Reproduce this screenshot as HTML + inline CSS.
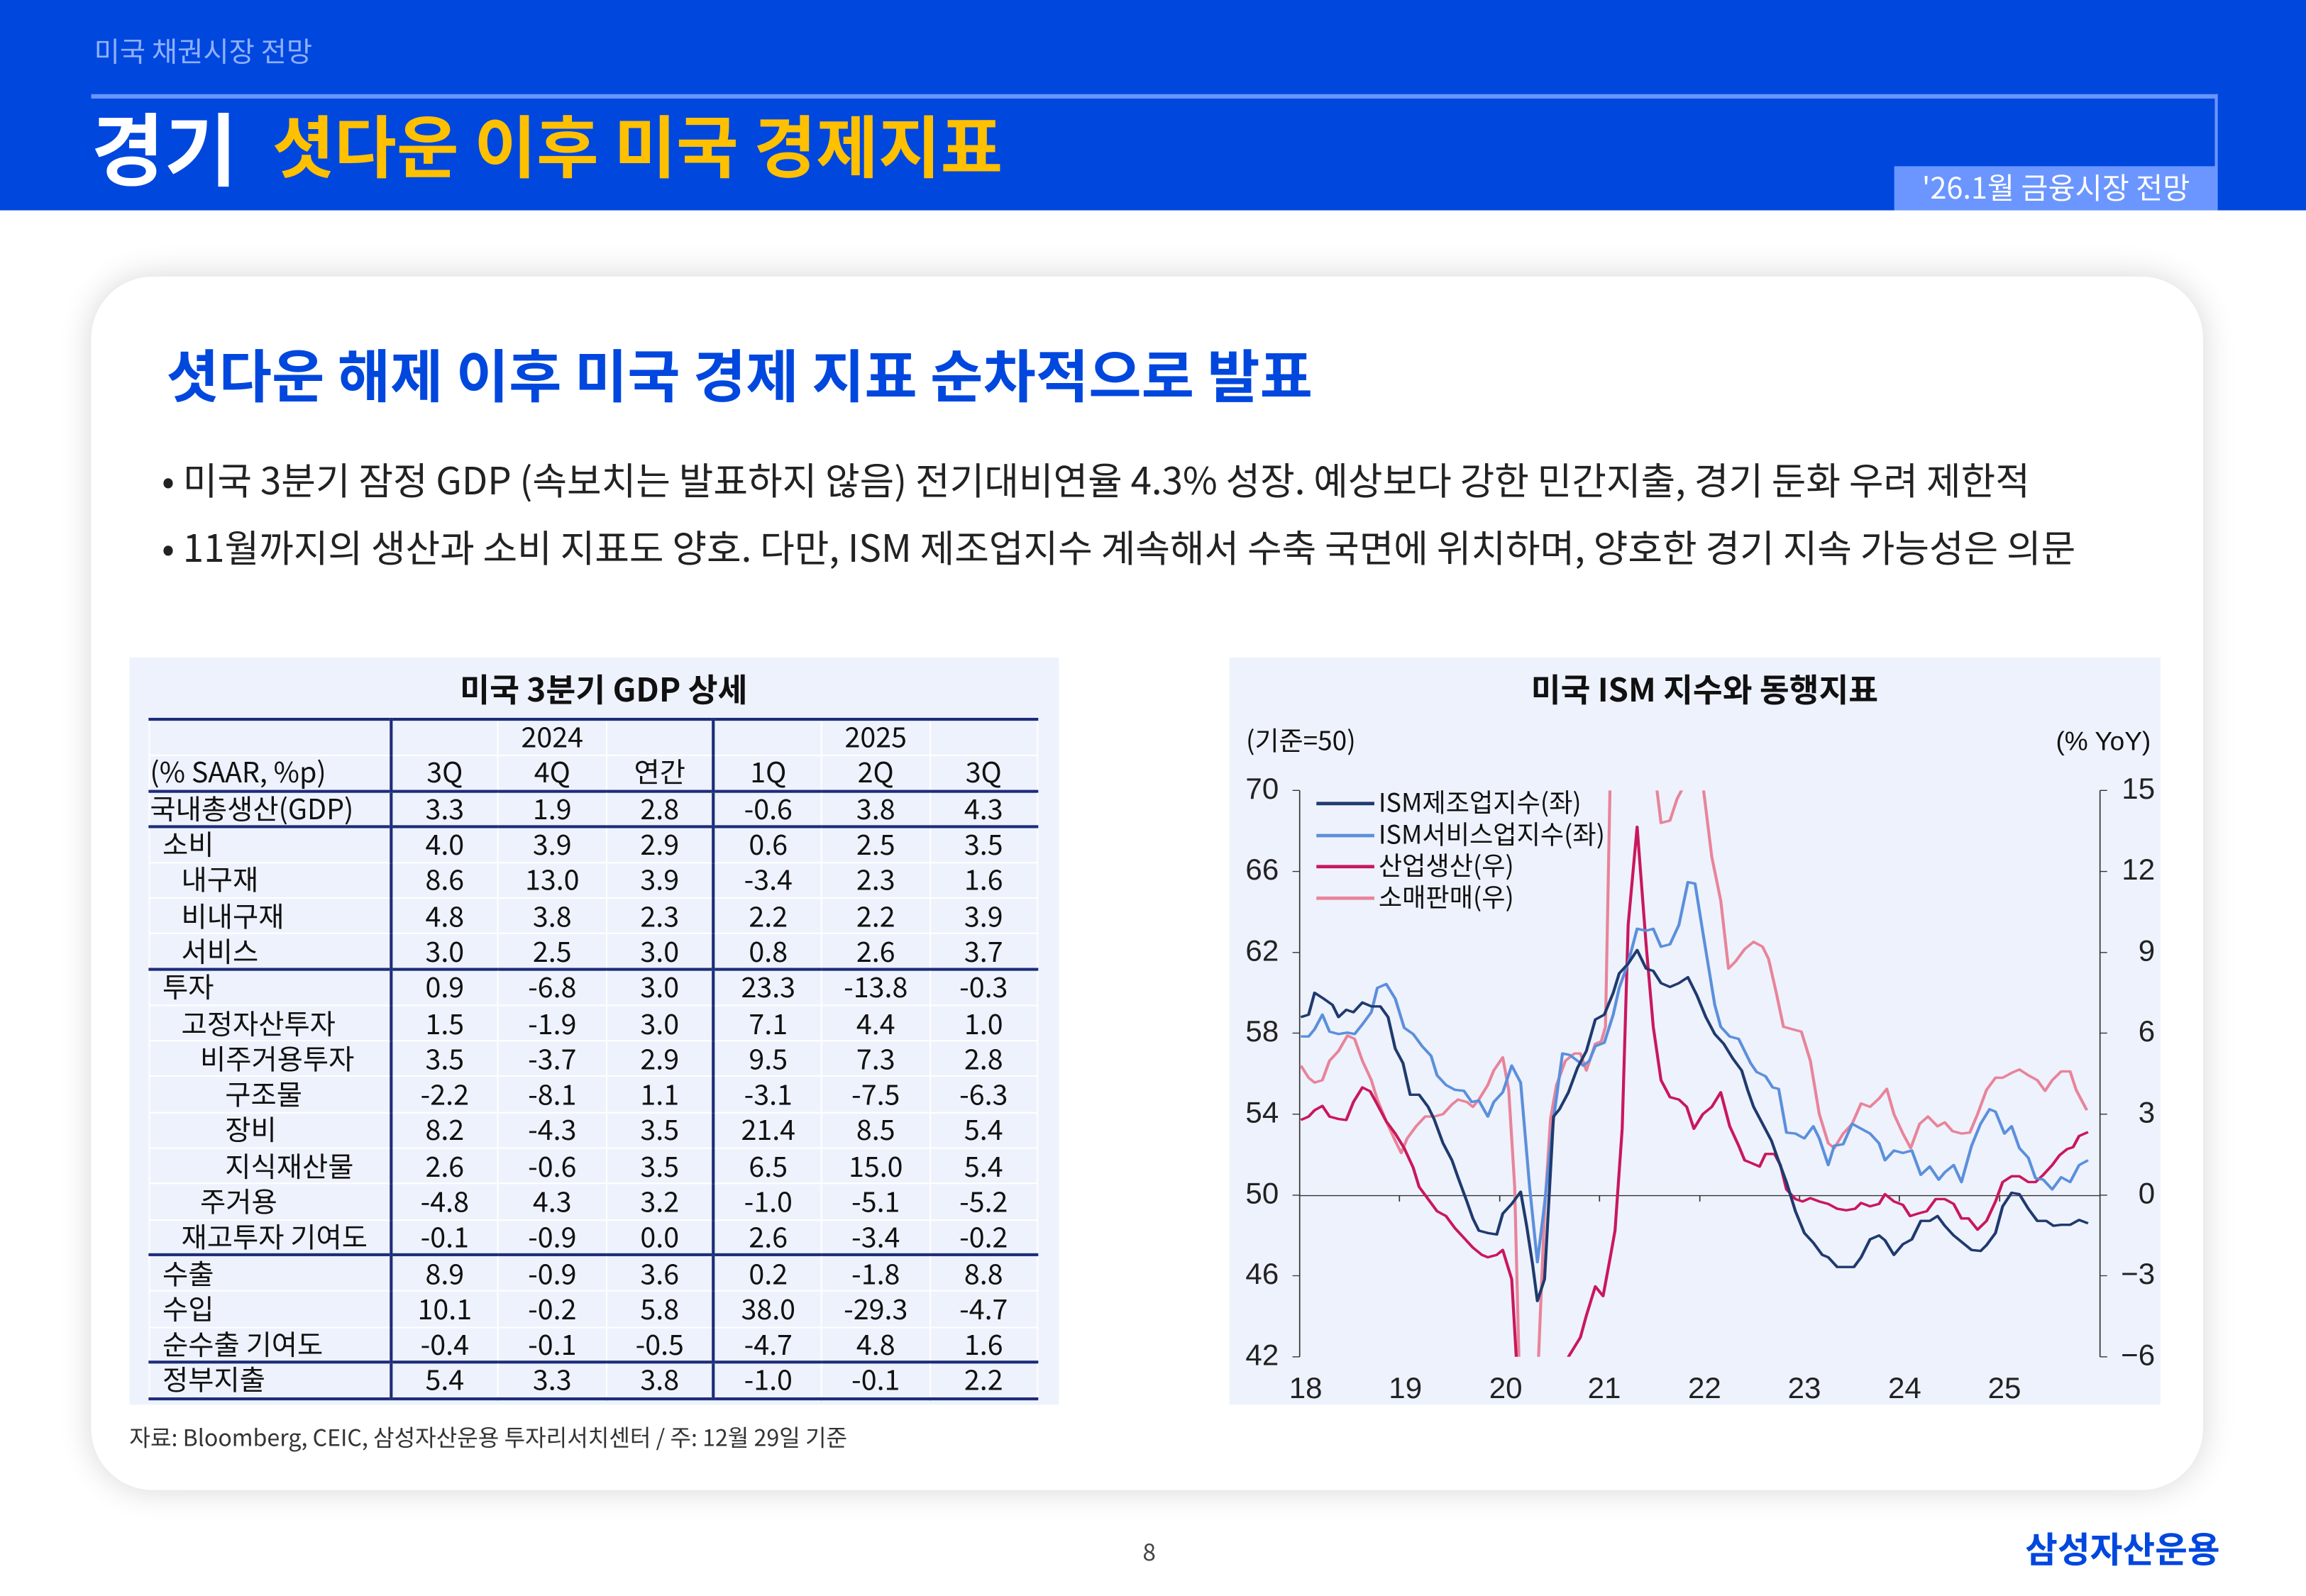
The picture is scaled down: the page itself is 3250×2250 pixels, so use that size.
<!DOCTYPE html>
<html><head><meta charset="utf-8"><style>
*{margin:0;padding:0;box-sizing:border-box}
body{width:3250px;height:2250px;overflow:hidden;background:#fff;font-family:"Liberation Sans","Noto Sans CJK KR",sans-serif}
#w{position:absolute;left:0;top:0;width:1568px;height:1085px;transform:scale(2.0727,2.0737);transform-origin:0 0;font-family:"Noto Sans CJK KR","Liberation Sans",sans-serif}
.a{position:absolute;white-space:nowrap}
table{border-collapse:collapse;position:absolute;left:101px;top:488px;width:605px;font-size:19px;color:#111;table-layout:fixed}
td{height:24.3px;text-align:center;padding:0;line-height:22px;border:1px solid #fff}
td.l{text-align:left}
tr.g td{border-top:2.5px solid #1d2c78}
td.v{border-left:2.5px solid #1d2c78}
td.d{border-left:1.5px dotted #1d2c78}
</style></head><body><div id="w">
<div class="a" style="left:0;top:0;width:1568px;height:143px;background:#0047de"></div>
<div class="a" style="left:64px;top:21px;font-size:19px;color:#8fb0ff">미국 채권시장 전망</div>
<div class="a" style="left:62px;top:64px;width:1446px;height:3px;background:#6a95ff"></div>
<div class="a" style="left:1506px;top:64px;width:1.5px;height:50px;background:#6a95ff"></div>
<div class="a" style="left:62px;top:59px;font-size:54px;font-weight:bold;color:#fff">경기</div>
<div class="a" style="left:185px;top:65px;font-size:46px;font-weight:bold;color:#ffc000">셧다운 이후 미국 경제지표</div>
<div class="a" style="left:1288px;top:113px;width:220px;height:30px;background:#6b96ff;color:#fff;font-size:20px;text-align:center;line-height:28px">'26.1월 금융시장 전망</div>
<div class="a" style="left:62px;top:188px;width:1436px;height:825px;border-radius:42px;background:#fff;box-shadow:0 0 22px rgba(0,0,0,0.16)"></div>
<div class="a" style="left:113px;top:226px;font-size:39px;font-weight:bold;color:#0047de">셧다운 해제 이후 미국 경제 지표 순차적으로 발표</div>
<div class="a" style="left:110px;top:307px;font-size:25.5px;color:#222">• 미국 3분기 잠정 GDP (속보치는 발표하지 않음) 전기대비연율 4.3% 성장. 예상보다 강한 민간지출, 경기 둔화 우려 제한적</div>
<div class="a" style="left:110px;top:353px;font-size:25.5px;color:#222">• 11월까지의 생산과 소비 지표도 양호. 다만, ISM 제조업지수 계속해서 수축 국면에 위치하며, 양호한 경기 지속 가능성은 의문</div>
<div class="a" style="left:88px;top:447px;width:632px;height:508px;background:#eef2fc"></div>
<div class="a" style="left:88px;top:452px;width:645px;text-align:center;font-size:22px;font-weight:bold;color:#111">미국 3분기 GDP 상세</div>
<table>
<colgroup><col style="width:164px"><col><col><col><col><col><col></colgroup>
<tr style="border-top:2.5px solid #1d2c78"><td></td><td class="v" style="border-bottom:1.5px dotted #1d2c78"></td><td style="border-bottom:1.5px dotted #1d2c78">2024</td><td style="border-bottom:1.5px dotted #1d2c78"></td><td class="v" style="border-bottom:1.5px dotted #1d2c78"></td><td style="border-bottom:1.5px dotted #1d2c78">2025</td><td style="border-bottom:1.5px dotted #1d2c78"></td></tr>
<tr><td class="l">(% SAAR, %p)</td><td class="v">3Q</td><td>4Q</td><td class="d">연간</td><td class="v">1Q</td><td>2Q</td><td>3Q</td></tr>
<tr class="g"><td class="l">국내총생산(GDP)</td><td class="v">3.3</td><td>1.9</td><td class="d">2.8</td><td class="v">-0.6</td><td>3.8</td><td>4.3</td></tr>
<tr class="g"><td class="l">&nbsp;&nbsp;소비</td><td class="v">4.0</td><td>3.9</td><td class="d">2.9</td><td class="v">0.6</td><td>2.5</td><td>3.5</td></tr>
<tr><td class="l">&nbsp;&nbsp;&nbsp;&nbsp;&nbsp;내구재</td><td class="v">8.6</td><td>13.0</td><td class="d">3.9</td><td class="v">-3.4</td><td>2.3</td><td>1.6</td></tr>
<tr><td class="l">&nbsp;&nbsp;&nbsp;&nbsp;&nbsp;비내구재</td><td class="v">4.8</td><td>3.8</td><td class="d">2.3</td><td class="v">2.2</td><td>2.2</td><td>3.9</td></tr>
<tr><td class="l">&nbsp;&nbsp;&nbsp;&nbsp;&nbsp;서비스</td><td class="v">3.0</td><td>2.5</td><td class="d">3.0</td><td class="v">0.8</td><td>2.6</td><td>3.7</td></tr>
<tr class="g"><td class="l">&nbsp;&nbsp;투자</td><td class="v">0.9</td><td>-6.8</td><td class="d">3.0</td><td class="v">23.3</td><td>-13.8</td><td>-0.3</td></tr>
<tr><td class="l">&nbsp;&nbsp;&nbsp;&nbsp;&nbsp;고정자산투자</td><td class="v">1.5</td><td>-1.9</td><td class="d">3.0</td><td class="v">7.1</td><td>4.4</td><td>1.0</td></tr>
<tr><td class="l">&nbsp;&nbsp;&nbsp;&nbsp;&nbsp;&nbsp;&nbsp;&nbsp;비주거용투자</td><td class="v">3.5</td><td>-3.7</td><td class="d">2.9</td><td class="v">9.5</td><td>7.3</td><td>2.8</td></tr>
<tr><td class="l">&nbsp;&nbsp;&nbsp;&nbsp;&nbsp;&nbsp;&nbsp;&nbsp;&nbsp;&nbsp;&nbsp;&nbsp;구조물</td><td class="v">-2.2</td><td>-8.1</td><td class="d">1.1</td><td class="v">-3.1</td><td>-7.5</td><td>-6.3</td></tr>
<tr><td class="l">&nbsp;&nbsp;&nbsp;&nbsp;&nbsp;&nbsp;&nbsp;&nbsp;&nbsp;&nbsp;&nbsp;&nbsp;장비</td><td class="v">8.2</td><td>-4.3</td><td class="d">3.5</td><td class="v">21.4</td><td>8.5</td><td>5.4</td></tr>
<tr><td class="l">&nbsp;&nbsp;&nbsp;&nbsp;&nbsp;&nbsp;&nbsp;&nbsp;&nbsp;&nbsp;&nbsp;&nbsp;지식재산물</td><td class="v">2.6</td><td>-0.6</td><td class="d">3.5</td><td class="v">6.5</td><td>15.0</td><td>5.4</td></tr>
<tr><td class="l">&nbsp;&nbsp;&nbsp;&nbsp;&nbsp;&nbsp;&nbsp;&nbsp;주거용</td><td class="v">-4.8</td><td>4.3</td><td class="d">3.2</td><td class="v">-1.0</td><td>-5.1</td><td>-5.2</td></tr>
<tr><td class="l">&nbsp;&nbsp;&nbsp;&nbsp;&nbsp;재고투자 기여도</td><td class="v">-0.1</td><td>-0.9</td><td class="d">0.0</td><td class="v">2.6</td><td>-3.4</td><td>-0.2</td></tr>
<tr class="g"><td class="l">&nbsp;&nbsp;수출</td><td class="v">8.9</td><td>-0.9</td><td class="d">3.6</td><td class="v">0.2</td><td>-1.8</td><td>8.8</td></tr>
<tr><td class="l">&nbsp;&nbsp;수입</td><td class="v">10.1</td><td>-0.2</td><td class="d">5.8</td><td class="v">38.0</td><td>-29.3</td><td>-4.7</td></tr>
<tr><td class="l">&nbsp;&nbsp;순수출 기여도</td><td class="v">-0.4</td><td>-0.1</td><td class="d">-0.5</td><td class="v">-4.7</td><td>4.8</td><td>1.6</td></tr>
<tr class="g" style="border-bottom:2.5px solid #1d2c78"><td class="l">&nbsp;&nbsp;정부지출</td><td class="v">5.4</td><td>3.3</td><td class="d">3.8</td><td class="v">-1.0</td><td>-0.1</td><td>2.2</td></tr>
</table>
<div class="a" style="left:836px;top:447px;width:633px;height:508px;background:#eef2fc"></div>
<svg class="a" style="left:834.6px;top:443.6px;width:636.8px;height:516px" viewBox="0 0 1568 1564" preserveAspectRatio="none" font-family="Liberation Sans, Noto Sans CJK KR, sans-serif">
<defs><clipPath id="c"><rect x="120" y="283" width="1340" height="1167"/></clipPath></defs>
<g fill="#111">
<text transform="translate(798 100) scale(1 1.23)" font-size="54" font-weight="bold" text-anchor="middle" font-family="Noto Sans CJK KR, sans-serif">미국 ISM 지수와 동행지표</text>
<text transform="translate(30 200) scale(1 1.23)" font-size="44" font-family="Noto Sans CJK KR, sans-serif">(기준=50)</text>
<text transform="translate(1545 200) scale(1 1.23)" font-size="44" text-anchor="end">(% YoY)</text>
</g>
<g stroke="#333" stroke-width="2" fill="none">
<path d="M120 283V1450M108 283H120M108 450H120M108 617H120M108 783H120M108 950H120M108 1117H120M108 1283H120M108 1450H120"/>
<path d="M1460 283V1450M1460 283H1472M1460 450H1472M1460 617H1472M1460 783H1472M1460 950H1472M1460 1117H1472M1460 1283H1472M1460 1450H1472"/>
<path d="M120 1118H1460M287 1118V1130M455 1118V1130M622 1118V1130M790 1118V1130M957 1118V1130M1124 1118V1130M1292 1118V1130"/>
</g>
<g font-size="50" fill="#222" text-anchor="end">
<text transform="translate(85 300) scale(1 1.23)">70</text><text transform="translate(85 467) scale(1 1.23)">66</text><text transform="translate(85 634) scale(1 1.23)">62</text><text transform="translate(85 800) scale(1 1.23)">58</text><text transform="translate(85 967) scale(1 1.23)">54</text><text transform="translate(85 1134) scale(1 1.23)">50</text><text transform="translate(85 1300) scale(1 1.23)">46</text><text transform="translate(85 1467) scale(1 1.23)">42</text>
<text transform="translate(1552 300) scale(1 1.23)">15</text><text transform="translate(1552 467) scale(1 1.23)">12</text><text transform="translate(1552 634) scale(1 1.23)">9</text><text transform="translate(1552 800) scale(1 1.23)">6</text><text transform="translate(1552 967) scale(1 1.23)">3</text><text transform="translate(1552 1134) scale(1 1.23)">0</text><text transform="translate(1552 1300) scale(1 1.23)">−3</text><text transform="translate(1552 1467) scale(1 1.23)">−6</text>
</g>
<g font-size="50" fill="#222" text-anchor="middle">
<text transform="translate(130 1535) scale(1 1.23)">18</text><text transform="translate(297 1535) scale(1 1.23)">19</text><text transform="translate(465 1535) scale(1 1.23)">20</text><text transform="translate(630 1535) scale(1 1.23)">21</text><text transform="translate(798 1535) scale(1 1.23)">22</text><text transform="translate(965 1535) scale(1 1.23)">23</text><text transform="translate(1133 1535) scale(1 1.23)">24</text><text transform="translate(1300 1535) scale(1 1.23)">25</text>
</g>
<g clip-path="url(#c)" fill="none" stroke-width="5" stroke-linejoin="round">
<polyline stroke="#e8849a" points="122,850 135,875 145,885 158,880 170,840 185,820 200,788 212,795 225,840 240,880 250,920 265,965 280,1005 290,1030 300,1000 315,975 330,955 345,955 360,950 375,930 385,920 400,925 410,935 420,920 435,890 445,860 460,833 470,900 480,1100 488,1500 515,1500 520,1450 530,1150 540,960 550,890 565,840 580,825 590,825 600,860 615,805 625,800 632,770 640,250 715,250 725,350 740,345 752,300 765,270 795,270 810,420 825,510 838,650 850,635 865,610 880,595 895,605 905,630 918,700 930,770 945,775 960,780 975,840 990,950 1005,1010 1015,1020 1030,990 1045,970 1060,928 1075,935 1090,918 1103,898 1115,950 1130,990 1143,1020 1158,970 1172,955 1188,975 1200,967 1213,985 1228,990 1242,988 1255,950 1270,900 1285,875 1297,875 1312,865 1325,858 1340,870 1355,880 1368,902 1380,880 1395,862 1410,862 1420,900 1438,942"/>
<polyline stroke="#c9175d" points="122,962 135,955 145,942 158,933 170,955 185,960 198,962 210,925 225,895 238,903 250,930 265,965 280,990 295,1020 310,1060 320,1100 335,1125 350,1150 365,1160 380,1185 395,1205 410,1225 425,1240 435,1245 450,1240 460,1230 475,1290 485,1500 565,1500 570,1450 590,1410 600,1365 615,1305 628,1325 640,1245 648,1190 660,980 670,560 685,358 700,600 712,770 725,880 740,915 755,920 768,935 780,980 795,950 810,935 825,905 840,975 855,1015 865,1045 875,1050 890,1058 900,1032 915,1032 925,1055 935,1105 950,1125 962,1130 975,1123 990,1130 1005,1135 1020,1145 1035,1148 1050,1145 1060,1133 1075,1140 1090,1135 1100,1115 1115,1130 1130,1137 1142,1160 1155,1155 1170,1150 1185,1125 1200,1125 1215,1135 1228,1165 1240,1165 1255,1188 1270,1170 1285,1130 1297,1090 1312,1078 1325,1078 1340,1090 1352,1090 1365,1075 1380,1055 1392,1035 1405,1022 1415,1018 1425,995 1440,987"/>
<polyline stroke="#5b8fdc" points="122,790 135,790 145,775 158,745 170,780 185,785 200,782 212,785 225,765 240,740 250,690 265,682 280,712 295,772 310,785 325,810 340,830 350,870 365,890 380,900 395,902 408,925 420,922 435,955 445,925 460,905 475,850 490,885 505,1100 518,1255 530,1135 545,960 560,825 572,828 585,840 595,850 605,840 615,810 630,803 645,745 655,690 670,638 685,568 700,572 712,568 725,605 740,600 755,560 770,472 782,475 795,575 805,650 815,725 825,770 840,790 855,795 865,820 875,845 885,863 900,872 912,895 922,898 935,988 950,990 965,1000 980,975 990,1000 1005,1055 1015,1015 1030,1012 1045,970 1060,980 1075,990 1090,1010 1100,1045 1115,1025 1130,1030 1145,1025 1160,1075 1175,1058 1190,1085 1200,1070 1215,1055 1228,1090 1245,1015 1260,970 1275,940 1285,945 1300,990 1312,975 1325,1020 1340,1040 1352,1082 1365,1085 1380,1105 1395,1080 1410,1090 1425,1055 1440,1045"/>
<polyline stroke="#1f3a6e" points="122,750 135,745 145,700 160,712 175,725 185,750 198,735 210,740 225,720 240,728 255,728 268,750 280,815 293,845 305,910 320,910 335,935 345,960 360,1010 375,1045 385,1080 400,1130 410,1165 420,1190 435,1195 450,1198 460,1155 475,1135 490,1110 500,1180 510,1260 518,1335 530,1290 545,955 555,940 570,905 585,855 600,820 615,755 630,745 645,700 655,660 670,640 685,612 700,650 712,655 725,680 740,688 755,680 770,668 785,705 800,750 815,785 830,805 845,835 860,860 870,900 880,935 895,970 910,1005 920,1040 935,1090 950,1150 965,1195 980,1215 995,1240 1005,1245 1020,1265 1035,1265 1048,1265 1060,1245 1075,1208 1090,1200 1100,1210 1115,1240 1130,1218 1145,1208 1160,1170 1175,1170 1188,1160 1200,1180 1215,1200 1230,1215 1245,1230 1260,1232 1270,1220 1285,1195 1297,1140 1312,1112 1325,1115 1340,1145 1355,1170 1370,1170 1382,1180 1395,1178 1410,1178 1425,1168 1440,1175"/>
</g>
<g stroke-width="7">
<line x1="148" y1="310" x2="245" y2="310" stroke="#1f3a6e"/>
<line x1="148" y1="376" x2="245" y2="376" stroke="#5b8fdc"/>
<line x1="148" y1="440" x2="245" y2="440" stroke="#c9175d"/>
<line x1="148" y1="505" x2="245" y2="505" stroke="#e8849a"/>
</g>
<g font-size="43" fill="#111" font-family="Noto Sans CJK KR, sans-serif">
<text transform="translate(252 327) scale(1 1.23)">ISM제조업지수(좌)</text>
<text transform="translate(252 393) scale(1 1.23)">ISM서비스업지수(좌)</text>
<text transform="translate(252 457) scale(1 1.23)">산업생산(우)</text>
<text transform="translate(252 522) scale(1 1.23)">소매판매(우)</text>
</g>
</svg>
<div class="a" style="left:88px;top:966px;font-size:15.5px;color:#333">자료: Bloomberg, CEIC, 삼성자산운용 투자리서치센터 / 주: 12월 29일 기준</div>
<div class="a" style="left:777px;top:1042px;font-size:16px;color:#444">8</div>
<div class="a" style="left:1377px;top:1034px;font-size:24px;font-weight:bold;color:#0047de">삼성자산운용</div>
</div></body></html>
